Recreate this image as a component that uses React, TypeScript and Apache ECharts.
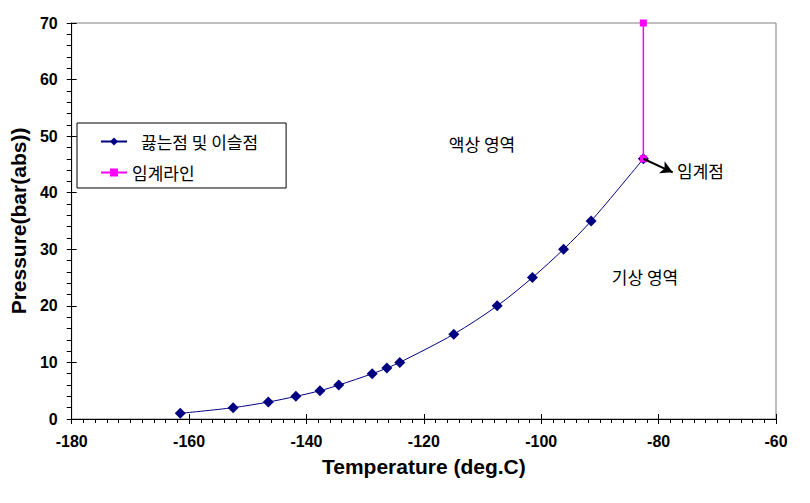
import React, { useEffect, useRef } from "react";
import * as echarts from "echarts";

const seriesNames = ["끓는점 및 이슬점", "임계라인"];
const temperatures = [-161.5, -152.5, -146.5, -141.8, -137.7, -134.5, -128.8, -126.3, -124.1, -114.9, -107.5, -101.5, -96.2, -91.5, -82.6];
const pressures = [1, 2, 3, 4, 5, 6, 8, 9, 10, 15, 20, 25, 30, 35, 46];
const criticalTemps = [-82.6, -82.6];
const criticalPressures = [46, 70];
const arrowEnd = [-77.6, 43.6];
const regionLabels = ["액상 영역", "기상 영역", "임계점"];

const AXIS_FONT = "'Liberation Sans', Arial, sans-serif";
const KR_FONT = "'Noto Sans CJK KR', sans-serif";

export default function App() {
  const ref = useRef<HTMLDivElement>(null);
  useEffect(() => {
    if (!ref.current) return;
    const chart = echarts.init(ref.current, null, { renderer: "svg" });
    const boiling = temperatures.map((t, i) => [t, pressures[i]]);
    const critical = criticalTemps.map((t, i) => [t, criticalPressures[i]]);
    const baseX = {
      type: "value",
      min: -180,
      max: -60,
      interval: 20,
      position: "bottom",
      splitLine: { show: false },
    };
    const baseY = {
      type: "value",
      min: 0,
      max: 70,
      interval: 10,
      position: "left",
      splitLine: { show: false },
    };
    const krText = { fontFamily: KR_FONT, fontSize: 17, fill: "#000" };
    chart.setOption({
      animation: false,
      backgroundColor: "#fff",
      grid: {
        left: 67,
        right: 34,
        top: 23,
        bottom: 84,
        show: true,
        borderColor: "#808080",
        borderWidth: 1,
        backgroundColor: "transparent",
      },
      legend: {
        left: 77,
        top: 123,
        orient: "vertical",
        data: seriesNames,
        backgroundColor: "#fff",
        borderColor: "#000",
        borderWidth: 1,
        borderRadius: 0,
        padding: [10, 28, 7, 23],
        itemGap: 14,
        itemWidth: 26,
        itemHeight: 10,
        textStyle: {
          fontFamily: KR_FONT,
          fontSize: 17,
          color: "#000",
          rich: { p: { padding: [0, 0, 0, 9], fontFamily: KR_FONT, fontSize: 17, color: "#000" } },
        },
        formatter: (name: string) => (name === seriesNames[0] ? `{p|${name}}` : name),
      },
      xAxis: [
        {
          ...baseX,
          name: "Temperature (deg.C)",
          nameLocation: "middle",
          nameGap: 37,
          nameTextStyle: { fontFamily: AXIS_FONT, fontWeight: "bold", fontSize: 21, color: "#000" },
          axisLine: { show: true, onZero: false, lineStyle: { color: "#000", width: 1 } },
          axisTick: { show: true, inside: false, length: 5, lineStyle: { color: "#000" } },
          minorTick: { show: true, splitNumber: 10, length: 4, lineStyle: { color: "#000" } },
          axisLabel: { fontFamily: AXIS_FONT, fontWeight: "bold", fontSize: 16, color: "#000", margin: 14 },
        },
        {
          ...baseX,
          axisLine: { show: false },
          axisTick: { show: true, inside: true, length: 5, lineStyle: { color: "#000" } },
          axisLabel: { show: false },
        },
      ],
      yAxis: [
        {
          ...baseY,
          name: "Pressure(bar(abs))",
          nameLocation: "middle",
          nameGap: 35,
          nameTextStyle: { fontFamily: AXIS_FONT, fontWeight: "bold", fontSize: 21, color: "#000" },
          axisLine: { show: true, onZero: false, lineStyle: { color: "#000", width: 1 } },
          axisTick: { show: true, inside: false, length: 5, lineStyle: { color: "#000" } },
          minorTick: { show: true, splitNumber: 5, length: 5, lineStyle: { color: "#000" } },
          axisLabel: { fontFamily: AXIS_FONT, fontWeight: "bold", fontSize: 16, color: "#000", margin: 14 },
        },
        {
          ...baseY,
          axisLine: { show: false },
          axisTick: { show: true, inside: true, length: 5, lineStyle: { color: "#000" } },
          axisLabel: { show: false },
        },
      ],
      series: [
        {
          name: seriesNames[0],
          type: "line",
          data: boiling,
          smooth: 0.3,
          symbol: "diamond",
          symbolSize: 11,
          itemStyle: { color: "#000080" },
          lineStyle: { color: "#000080", width: 1 },
          z: 3,
        },
        {
          name: seriesNames[1],
          type: "line",
          data: critical,
          symbol: "rect",
          symbolSize: 7,
          itemStyle: { color: "#FF00FF" },
          lineStyle: { color: "#FF00FF", width: 1.5 },
          z: 4,
          markLine: {
            silent: true,
            symbol: ["none", "arrow"],
            symbolSize: [10, 12],
            label: { show: false },
            lineStyle: { color: "#000", width: 2, type: "solid" },
            data: [[{ coord: [criticalTemps[0], criticalPressures[0]] }, { coord: arrowEnd }]],
          },
        },
      ],
      graphic: [
        { type: "text", x: 482, y: 143, style: { ...krText, text: regionLabels[0], align: "center", verticalAlign: "middle" } },
        { type: "text", x: 645, y: 276, style: { ...krText, text: regionLabels[1], align: "center", verticalAlign: "middle" } },
        { type: "text", x: 677, y: 170, style: { ...krText, text: regionLabels[2], align: "left", verticalAlign: "middle" } },
      ],
    } as any);
    return () => chart.dispose();
  }, []);
  return (
    <div
      ref={ref}
      style={{ position: "fixed", left: 0, top: 0, width: 810, height: 503, background: "#fff" }}
    />
  );
}
